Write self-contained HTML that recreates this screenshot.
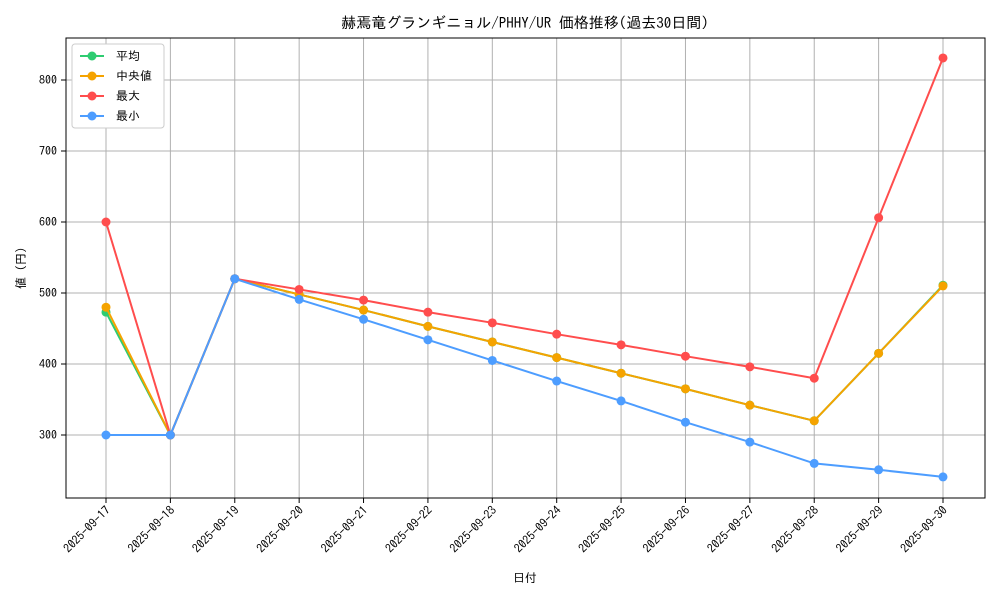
<!DOCTYPE html>
<html><head><meta charset="utf-8">
<style>
body{margin:0;background:#fff;}
svg text{font-family:"IPAGothic","Noto Sans CJK JP",monospace;fill:#000;}
</style></head>
<body>
<svg id="chart" width="1000" height="600" xmlns="http://www.w3.org/2000/svg">
<rect width="1000" height="600" fill="#fff"/>
<text x="525" y="28" font-size="15" text-anchor="middle">赫焉竜グランギニョル/PHHY/UR 価格推移(過去30日間)</text>
<g id="grid"></g>
<g id="axes"></g>
<g id="series"></g>
<rect x="66" y="38" width="919" height="460" fill="none" stroke="#000" stroke-width="1"/>
<text x="525" y="582" font-size="12" text-anchor="middle">日付</text>
<text x="25" y="268" font-size="12" text-anchor="middle" transform="rotate(-90 25 268)">値 (円)</text>
<g id="legend">
<rect x="72" y="44" width="92" height="84" fill="#fff" stroke="#ccc" rx="3"/>
</g>
</svg>
<script>
const categories=["2025-09-17","2025-09-18","2025-09-19","2025-09-20","2025-09-21","2025-09-22","2025-09-23","2025-09-24","2025-09-25","2025-09-26","2025-09-27","2025-09-28","2025-09-29","2025-09-30"];
const meanValues=[473,300,520,498,476,453,431,409,387,365,342,320,415,511];
const medianValues=[480,300,520,498,476,453,431,409,387,365,342,320,415,510];
const maxValues=[600,300,520,505,490,473,458,442,427,411,396,380,606,831];
const minValues=[300,300,520,491,463,434,405,376,348,318,290,260,251,241];
const yTicks=[300,400,500,600,700,800];
const seriesNames=["平均","中央値","最大","最小"];
const NS="http://www.w3.org/2000/svg";
const x=i=>106+i*(943-106)/(categories.length-1);
const y=v=>435-(v-300)*0.71;
function mk(tag,attrs,parent){const e=document.createElementNS(NS,tag);for(const k in attrs)e.setAttribute(k,attrs[k]);parent.appendChild(e);return e;}
const grid=document.getElementById('grid'),axes=document.getElementById('axes'),ser=document.getElementById('series'),leg=document.getElementById('legend');
categories.forEach((c,i)=>{
 const l=mk('line',{x1:x(i),x2:x(i),y1:38,y2:498,stroke:'#b0b0b0','stroke-width':1},grid);
 
 
 mk('line',{x1:x(i),x2:x(i),y1:498,y2:503,stroke:'#000'},axes);
 const t=mk('text',{x:x(i)+5,y:511,'font-size':12,'text-anchor':'end',transform:`rotate(-45 ${x(i)+5} 511)`},axes);
 t.textContent=c;
 
 
});
yTicks.forEach(v=>{
 const l=mk('line',{x1:66,x2:985,y1:y(v),y2:y(v),stroke:'#b0b0b0','stroke-width':1},grid);
 
 
 mk('line',{x1:61,x2:66,y1:y(v),y2:y(v),stroke:'#000'},axes);
 const t=mk('text',{x:57,y:y(v)+4,'font-size':12,'text-anchor':'end'},axes);
 t.textContent=v;
 
 
});
const all=[[meanValues,'#2ecc71'],[medianValues,'#f5a300'],[maxValues,'#ff4d4d'],[minValues,'#4d9dff']];
all.forEach(([vals,col],si)=>{
 const g=mk('g',{},ser);
 
 
 mk('polyline',{points:vals.map((v,i)=>x(i)+','+y(v)).join(' '),fill:'none',stroke:col,'stroke-width':2},g);
 vals.forEach((v,i)=>{
  const c=mk('circle',{cx:x(i),cy:y(v),r:4.5,fill:col},g);
  
  
 });
 const ly=56+si*20;
 const le=mk('g',{},leg);
 
 
 mk('line',{x1:80,x2:104,y1:ly,y2:ly,stroke:col,'stroke-width':2},le);
 mk('circle',{cx:92,cy:ly,r:4.5,fill:col},le);
 const t=mk('text',{x:116,y:ly+4,'font-size':12},le);
 t.textContent=seriesNames[si];
});
</script>
</body></html>
